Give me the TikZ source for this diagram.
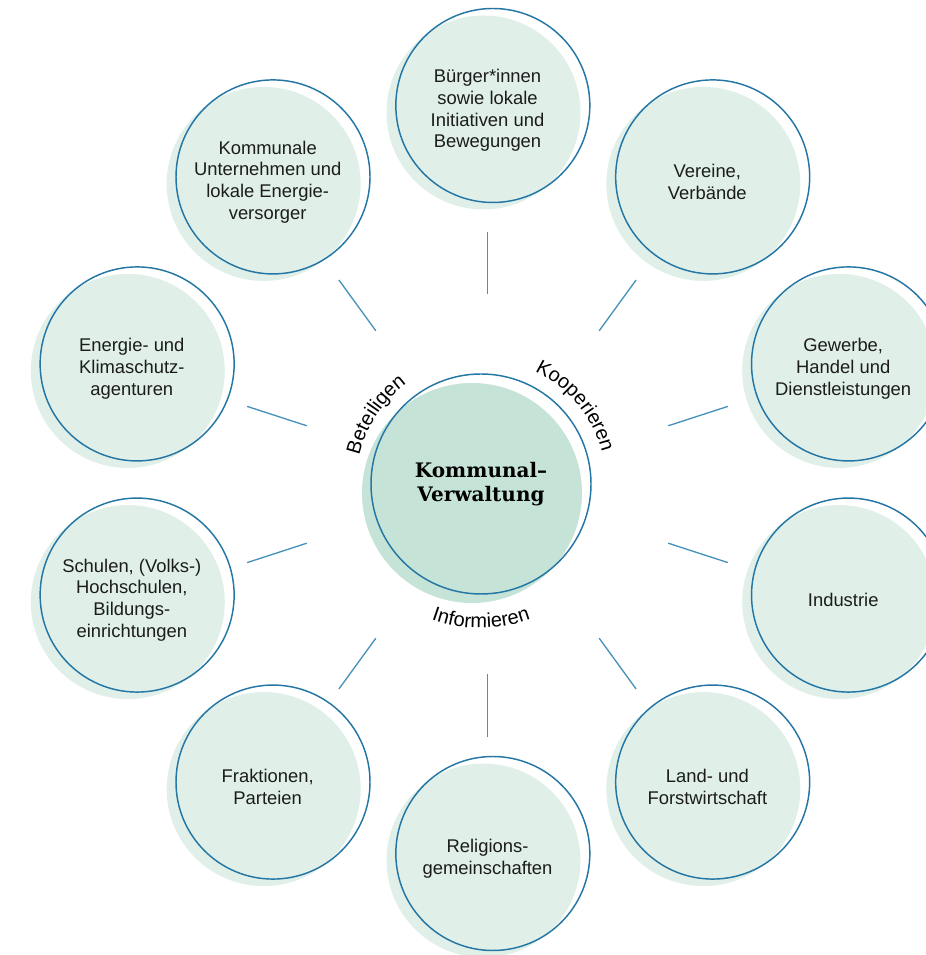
\documentclass[tikz,border=0pt]{standalone}
\usepackage{fontspec}
\setmainfont{Liberation Sans}
\newfontfamily\hubfont{DejaVu Serif}
\usetikzlibrary{decorations.text}
\definecolor{ringblue}{RGB}{36,118,164}
\definecolor{spokeblue}{RGB}{70,146,186}
\definecolor{hubfill}{RGB}{198,227,215}
\definecolor{partnerfill}{RGB}{224,240,232}
\definecolor{inktext}{RGB}{28,28,28}
\newcommand{\partnerfont}{\fontsize{13.8}{16.3}\selectfont}
\newcommand{\arcfont}{\fontsize{15}{17}\selectfont}

\begin{document}
\begin{tikzpicture}[x=0.75pt,y=0.75pt,
  partner/.style={circle,minimum size=145.5pt,inner sep=0pt,align=center,text=inktext,font=\partnerfont,
    preaction={fill=partnerfill,transform canvas={shift={(-3pt,-1.5pt)}}},
    postaction={draw=ringblue,line width=1.1pt,transform canvas={shift={(4pt,3.75pt)}}}},
  hub/.style={circle,minimum size=165pt,inner sep=0pt,align=center,text=black,draw=ringblue,line width=1.1pt,
    font=\hubfont\bfseries\fontsize{15}{17.8}\selectfont,
    preaction={fill=hubfill,transform canvas={shift={(-6.75pt,-6.75pt)}}}},
  spoke/.style={draw=spokeblue,line width=1pt,shorten <=142.5pt,shorten >=18pt},
  arclabel/.style={decorate,font=\arcfont,decoration={text along path,text align=center,text={|\arcfont|#1}}}]
\useasboundingbox (0,0) rectangle (925,955);
\coordinate (mid) at (487.5,470.5);
\node[partner] (buerger) at ([shift={(90:374)}]mid) {Bürger*innen\\sowie lokale\\Initiativen und\\Bewegungen};
\node[partner] (vereine) at ([shift={(54:374)}]mid) {Vereine,\\Verbände};
\node[partner] (gewerbe) at ([shift={(18:374)}]mid) {Gewerbe,\\Handel und\\Dienstleistungen};
\node[partner] (industrie) at ([shift={(-18:374)}]mid) {Industrie};
\node[partner] (landwirt) at ([shift={(-54:374)}]mid) {Land- und\\Forstwirtschaft};
\node[partner] (religion) at ([shift={(-90:374)}]mid) {Religions-\\gemeinschaften};
\node[partner] (fraktion) at ([shift={(-126:374)}]mid) {Fraktionen,\\Parteien};
\node[partner] (schulen) at ([shift={(-162:374)}]mid) {Schulen, (Volks-)\\Hochschulen,\\Bildungs-\\einrichtungen};
\node[partner] (energie) at ([shift={(162:374)}]mid) {Energie- und\\Klimaschutz-\\agenturen};
\node[partner] (kommunal) at ([shift={(126:374)}]mid) {Kommunale\\Unternehmen und\\lokale Energie-\\versorger};
\draw[spoke] (mid) -- (buerger);
\draw[spoke] (mid) -- (vereine);
\draw[spoke] (mid) -- (gewerbe);
\draw[spoke] (mid) -- (industrie);
\draw[spoke] (mid) -- (landwirt);
\draw[spoke] (mid) -- (religion);
\draw[spoke] (mid) -- (fraktion);
\draw[spoke] (mid) -- (schulen);
\draw[spoke] (mid) -- (energie);
\draw[spoke] (mid) -- (kommunal);
\node[hub] (hub) at (481,471) {Kommunal–\\Verwaltung};
\path[arclabel=Beteiligen] ([shift={(206.6:125)}]hub.center) arc[start angle=206.6,end angle=86.6,radius=93.75pt];
\path[arclabel=Kooperieren] ([shift={(99.5:125)}]hub.center) arc[start angle=99.5,end angle=-20.5,radius=93.75pt];
\path[arclabel=Informieren] ([shift={(-150:144)}]hub.center) arc[start angle=-150,end angle=-30,radius=108pt];
\end{tikzpicture}
\end{document}
